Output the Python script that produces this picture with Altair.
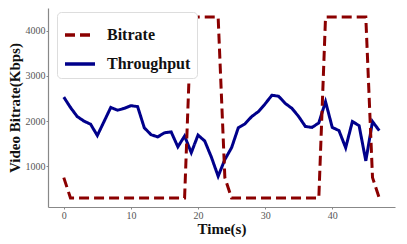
import altair as alt
import pandas as pd

time = list(range(48))
bitrate = [750] + [300] * 18 + [4300] * 5 + [750] + [300] * 14 + [4300] * 7 + [750, 300]
throughput = [2530, 2300, 2100, 2000, 1930, 1680, 1990, 2300, 2240, 2280,
              2340, 2320, 1850, 1700, 1650, 1740, 1760, 1430, 1670, 1300,
              1690, 1560, 1200, 780, 1150, 1410, 1850, 1940, 2100, 2210,
              2380, 2570, 2550, 2390, 2280, 2100, 1880, 1860, 1960, 2430,
              1860, 1790, 1410, 1990, 1900, 1120, 1990, 1790]
series_names = ["Bitrate", "Throughput"]
x_ticks = [0, 10, 20, 30, 40]
y_ticks = [1000, 2000, 3000, 4000]

df = pd.DataFrame({
    "t": time * 2,
    "v": bitrate + throughput,
    "series": ["Bitrate"] * len(time) + ["Throughput"] * len(time),
})

serif = "Liberation Serif"

color = alt.Color("series:N",
                  scale=alt.Scale(domain=series_names, range=["#8b0000", "#00008b"]),
                  legend=alt.Legend(title=None, orient="none", legendX=9, legendY=4,
                                    symbolType="stroke", symbolSize=900,
                                    symbolStrokeWidth=3.5, labelFont=serif,
                                    labelFontSize=16, labelFontWeight="bold",
                                    labelColor="#111", fillColor="white",
                                    strokeColor="#dddddd", cornerRadius=4,
                                    padding=6, rowPadding=4, labelOffset=10))
dash = alt.StrokeDash("series:N",
                      scale=alt.Scale(domain=series_names, range=[[10, 5], [1, 0]]),
                      legend=alt.Legend(title=None, orient="none", legendX=9, legendY=4))

xenc = alt.X("t:Q", scale=alt.Scale(domain=[-2.35, 49.35], nice=False, zero=False),
             axis=alt.Axis(title="Time(s)", values=x_ticks, grid=False, format="d"))
yenc = alt.Y("v:Q", scale=alt.Scale(domain=[100, 4500], nice=False, zero=False),
             axis=alt.Axis(title="Video Bitrate(Kbps)", values=y_ticks, grid=False, format="d"))

base = alt.Chart(df).mark_line(strokeWidth=3, strokeCap="butt").encode(
    x=xenc, y=yenc, color=color, strokeDash=dash
)

thr = base.transform_filter(alt.datum.series == "Throughput")
bit = base.transform_filter(alt.datum.series == "Bitrate")

chart = alt.layer(thr, bit).properties(
    width=347, height=199,
    autosize=alt.AutoSizeParams(type="none"),
    padding={"left": 40, "top": 0, "right": 4, "bottom": 36},
).configure_view(stroke=None).configure_axis(
    domainColor="#888888", domainWidth=1.2, tickColor="#888888", tickSize=2,
    labelFont=serif, labelFontSize=10, labelColor="#555555",
    titleFont=serif, titleFontSize=15, titleFontWeight="bold", titleColor="#111111",
).configure_axisX(labelPadding=1, titlePadding=1).configure_axisY(labelPadding=1, titlePadding=3)

chart.save("out.html", embed_options={"renderer": "svg", "actions": False})
